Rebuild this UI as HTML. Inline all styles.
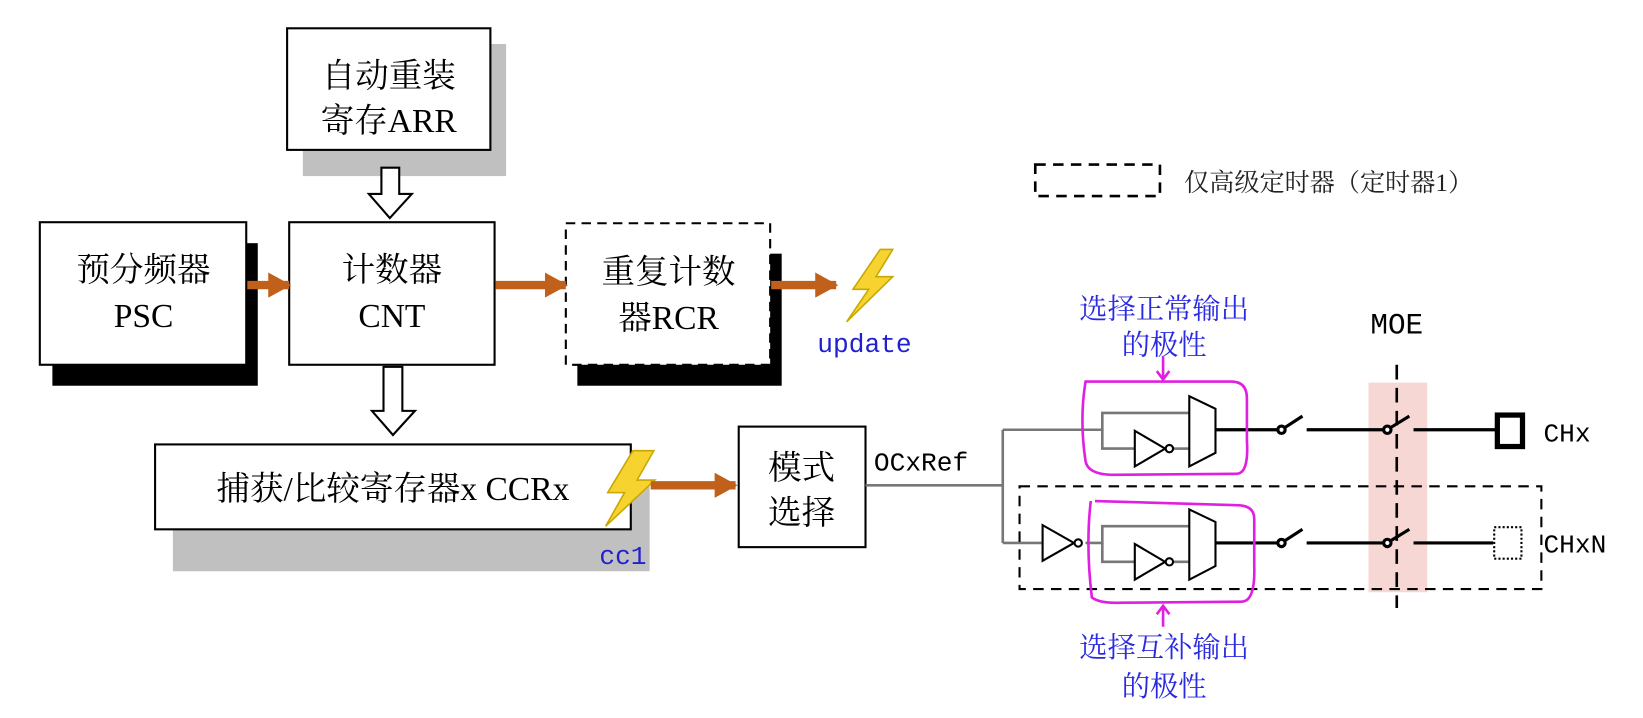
<!DOCTYPE html>
<html><head><meta charset="utf-8"><style>
html,body{margin:0;padding:0;background:#fff;}
svg{display:block;}
text{font-family:"Liberation Serif","Noto Serif CJK SC","Noto Sans CJK SC",serif;}
text.m{font-family:"Liberation Mono","Noto Sans CJK SC",monospace;}
</style></head><body>
<svg width="1643" height="718" viewBox="0 0 1568 685" preserveAspectRatio="none" xmlns="http://www.w3.org/2000/svg">
<defs>
<marker id="oa" markerWidth="22" markerHeight="24" refX="20" refY="12" orient="auto" markerUnits="userSpaceOnUse"><path d="M0,0 L22,12 L0,24 Z" fill="#c0601a"/></marker>
</defs>
<!-- ARR -->
<rect x="289" y="42" width="194" height="126" fill="#c0c0c0"/>
<rect x="274" y="27" width="194" height="116" fill="#fff" stroke="#000" stroke-width="2"/>
<text x="371" y="83" font-size="32" text-anchor="middle">自动重装</text>
<text x="371" y="126" font-size="32" text-anchor="middle">寄存ARR</text>
<path d="M364,160 H381 V185 H393 L372,208 L352,185 H364 Z" fill="#fff" stroke="#000" stroke-width="2"/>
<!-- PSC -->
<rect x="50" y="232" width="196" height="136" fill="#000"/>
<rect x="38" y="212" width="197" height="136" fill="#fff" stroke="#000" stroke-width="2"/>
<text x="137" y="268" font-size="32" text-anchor="middle">预分频器</text>
<text x="137" y="312" font-size="32" text-anchor="middle">PSC</text>
<!-- CNT -->
<rect x="276" y="212" width="196" height="136" fill="#fff" stroke="#000" stroke-width="2"/>
<text x="374" y="268" font-size="32" text-anchor="middle">计数器</text>
<text x="374" y="312" font-size="32" text-anchor="middle">CNT</text>
<!-- RCR -->
<rect x="551" y="242" width="195" height="126" fill="#000"/>
<rect x="540" y="213" width="195" height="135" fill="#fff" stroke="#000" stroke-width="2" stroke-dasharray="9,6"/>
<text x="638" y="270" font-size="32" text-anchor="middle">重复计数</text>
<text x="638" y="314" font-size="32" text-anchor="middle">器RCR</text>
<!-- orange arrows -->
<line x1="236" y1="272" x2="276" y2="272" stroke="#c0601a" stroke-width="8" marker-end="url(#oa)"/>
<line x1="473" y1="272" x2="540" y2="272" stroke="#c0601a" stroke-width="8" marker-end="url(#oa)"/>
<line x1="736" y1="272" x2="798" y2="272" stroke="#c0601a" stroke-width="8" marker-end="url(#oa)"/>
<path d="M840,238 L814,276 L829,276 L808,307 L852,264 L836,264 L852,238 Z" fill="#f7d330" stroke="#c8a800" stroke-width="1.5"/>
<text class="m" x="780" y="336" font-size="25" fill="#2020d0">update</text>
<path d="M366,350 H384 V392 H396 L375,415 L355,392 H366 Z" fill="#fff" stroke="#000" stroke-width="2"/>
<!-- CCR -->
<rect x="165" y="460" width="455" height="85" fill="#c0c0c0"/>
<rect x="148" y="424" width="454" height="81" fill="#fff" stroke="#000" stroke-width="2"/>
<text x="375" y="477" font-size="32" text-anchor="middle">捕获/比较寄存器x CCRx</text>
<path d="M604,430 L580,470 L596,470 L578,502 L625,458 L608,458 L624,430 Z" fill="#f7d330" stroke="#c8a800" stroke-width="1.5"/>
<text class="m" x="572" y="538" font-size="25" fill="#2020d0">cc1</text>
<line x1="621" y1="463" x2="702" y2="463" stroke="#c0601a" stroke-width="8" marker-end="url(#oa)"/>
<!-- mode select -->
<rect x="705" y="407" width="121" height="115" fill="#fff" stroke="#000" stroke-width="2"/>
<text x="765" y="457" font-size="32" text-anchor="middle">模式</text>
<text x="765" y="500" font-size="32" text-anchor="middle">选择</text>
<text class="m" x="834" y="449" font-size="25">OCxRef</text>
<!-- legend -->
<rect x="988" y="157" width="119" height="30" fill="none" stroke="#000" stroke-width="2.5" stroke-dasharray="10,7"/>
<text x="1130" y="182" font-size="24" fill="#222">仅高级定时器（定时器1）</text>
<g stroke="#777" stroke-width="2.5" fill="none">
<path d="M826,463 H957"/>
<path d="M957,410 V518"/>
<path d="M957,410 H1052 V394 H1135"/>
<path d="M1052,410 V428 H1083"/>
<path d="M1120,428 H1135"/>
<path d="M957,518 H995"/>
<path d="M1036,518 H1052 V502 H1135"/>
<path d="M1052,518 V536 H1083"/>
<path d="M1120,536 H1135"/>
</g>
<rect x="1306" y="365" width="56" height="200" fill="#f4c9c4" opacity="0.75"/>
<rect x="973" y="464" width="498" height="98" fill="none" stroke="#000" stroke-width="2" stroke-dasharray="10,7"/>
<line x1="1333" y1="348" x2="1333" y2="580" stroke="#000" stroke-width="2.5" stroke-dasharray="14,8"/>
<g stroke="#000" stroke-width="2" fill="#fff">
<path d="M1135,378 L1160,390 L1160,432 L1135,445 Z"/>
<path d="M1083,411 L1083,445 L1112,428 Z"/>
<circle cx="1116" cy="428" r="3.5"/>
<path d="M1135,486 L1160,498 L1160,540 L1135,553 Z"/>
<path d="M1083,519 L1083,553 L1112,536 Z"/>
<circle cx="1116" cy="536" r="3.5"/>
<path d="M995,501 L995,535 L1025,518 Z"/>
<circle cx="1029" cy="518" r="3.5"/>
</g>
<g stroke="#000" stroke-width="3" fill="#fff">
<path d="M1160,410 H1220"/>
<circle cx="1223" cy="410" r="3.5"/>
<path d="M1226,408 L1243,397"/>
<path d="M1247,410 H1320"/>
<circle cx="1324" cy="410" r="3.5"/>
<path d="M1327,408 L1345,397"/>
<path d="M1349,410 H1427"/>
<path d="M1160,518 H1220"/>
<circle cx="1223" cy="518" r="3.5"/>
<path d="M1226,516 L1243,505"/>
<path d="M1247,518 H1320"/>
<circle cx="1324" cy="518" r="3.5"/>
<path d="M1327,516 L1345,505"/>
<path d="M1349,518 H1425"/>
</g>
<rect x="1429" y="396" width="24" height="30" fill="#fff" stroke="#000" stroke-width="5"/>
<rect x="1426" y="503" width="26" height="30" fill="#fff" stroke="#000" stroke-width="2" stroke-dasharray="2,2"/>
<text class="m" x="1473" y="421" font-size="25">CHx</text>
<text class="m" x="1473" y="527" font-size="25">CHxN</text>
<text class="m" x="1333" y="318" font-size="28" text-anchor="middle">MOE</text>
<g stroke="#e020e0" stroke-width="2.5" fill="none">
<path d="M1036,364 Q1030,400 1036,440 Q1038,452 1060,453 L1180,452 Q1192,452 1190,420 L1190,380 Q1190,364 1175,364 Z"/>
<path d="M1041,478 Q1036,520 1042,570 Q1050,576 1070,575 L1185,574 Q1198,574 1197,540 L1197,495 Q1197,482 1180,482 L1045,478"/>
<path d="M1110,340 V362 M1104,354 L1110,362 L1116,354"/>
<path d="M1110,598 V578 M1104,586 L1110,578 L1116,586"/>
</g>
<g font-size="27" fill="#2a2ae0" text-anchor="middle">
<text x="1111" y="304">选择正常输出</text>
<text x="1111" y="338">的极性</text>
<text x="1111" y="627">选择互补输出</text>
<text x="1111" y="664">的极性</text>
</g>
</svg>
</body></html>
